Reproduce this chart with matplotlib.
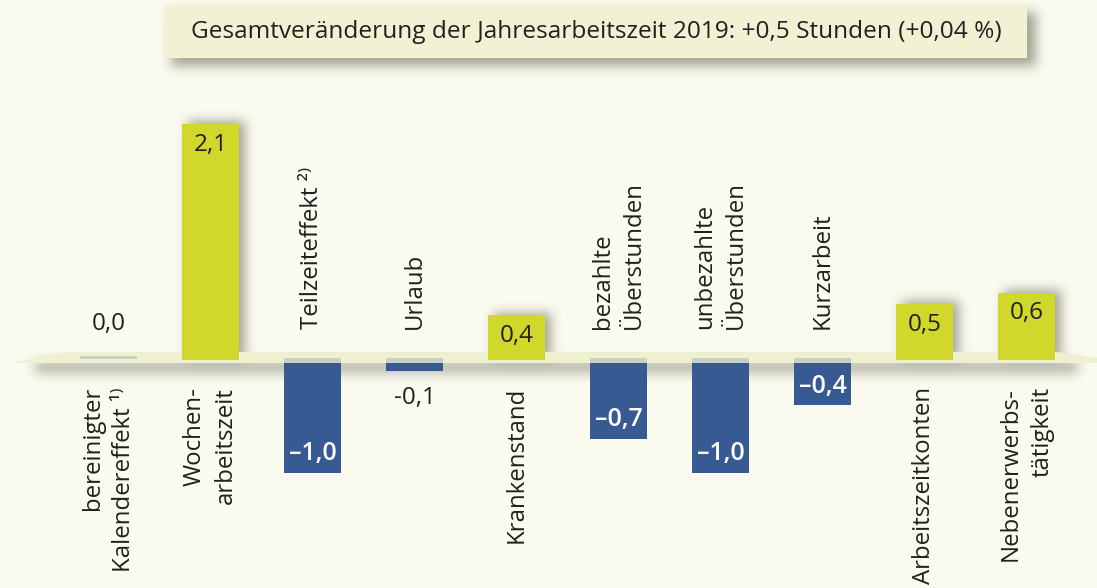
import numpy as np
import matplotlib
matplotlib.use("Agg")
import matplotlib.pyplot as plt
import matplotlib.transforms as mtransforms
from matplotlib.patches import Rectangle, Polygon

# ---------------- data ----------------
title = "Gesamtveränderung der Jahresarbeitszeit 2019: +0,5 Stunden (+0,04 %)"
categories = [
    "bereinigter\nKalendereffekt ¹⁾",
    "Wochen-\narbeitszeit",
    "Teilzeiteffekt ²⁾",
    "Urlaub",
    "Krankenstand",
    "bezahlte\nÜberstunden",
    "unbezahlte\nÜberstunden",
    "Kurzarbeit",
    "Arbeitszeitkonten",
    "Nebenerwerbs-\ntätigkeit",
]
values = [0.0, 2.1, -1.0, -0.1, 0.4, -0.7, -1.0, -0.4, 0.5, 0.6]

# ---------------- style ----------------
W, H = 1097, 588
BG = "#FAFAEE"
BOX = "#F1F2D3"
GREEN = "#D0D82B"
BLUE = "#385A93"
CAP = "#C9D0C6"
BAND = "#EEF0D0"
TXT = "#231F20"
FAM = ["Open Sans", "DejaVu Sans"]
LBL = 17.3
VAL = 17.5

fig = plt.figure(figsize=(W / 100, H / 100), dpi=100, facecolor=BG)
ax = fig.add_axes([0, 0, 1, 1])
ax.set_axis_off()

x0_px, step_px = 108.5, 102.0
zero_px, unit_px = 360.0, 112.5
xlim = (-x0_px / step_px, (W - x0_px) / step_px)
ylim = (-(H - zero_px) / unit_px, zero_px / unit_px)

# pixel (from top-left) transform
pxT = mtransforms.Affine2D().scale(1 / W, -1 / H).translate(0, 1) + fig.transFigure
xdata_ypx = mtransforms.blended_transform_factory(ax.transData, pxT)
px = 1 / unit_px  # one pixel in data units (vertical)

x = np.arange(len(values))
bw = 57 / step_px

# bars
for xi, v in zip(x, values):
    if v > 0:
        ax.bar(xi, v, width=bw, color=GREEN, zorder=4, linewidth=0)
    elif v < 0:
        ax.bar(xi, v, width=bw, color=BLUE, zorder=4, linewidth=0)
        ax.bar(xi, 5 * px, bottom=-3 * px, width=bw, color=CAP, zorder=5, linewidth=0)
    else:
        ax.bar(xi, 3 * px, bottom=1 * px, width=bw, color=CAP, zorder=5, linewidth=0)

ax.set_xlim(*xlim)
ax.set_ylim(*ylim)

# floor band
band = Polygon([(13, 362.5), (70, 352), (1058, 352), (1097, 358), (1097, 363), (13, 363)],
               closed=True, transform=pxT, facecolor=BAND, edgecolor="none", zorder=2)
ax.add_patch(band)

# title box
ax.add_patch(Rectangle((165, 5), 862, 53, transform=pxT, facecolor=BOX,
                       edgecolor="none", zorder=3))
tt = ax.text(596, 32, title, transform=pxT, ha="center", va="center",
             fontsize=17, family=FAM, color=TXT, zorder=6)
fig.canvas.draw()
bb = tt.get_window_extent()
tt.set_fontsize(17 * 810 / bb.width)

# value labels
def fmt(v, dash):
    s = f"{abs(v):.1f}".replace(".", ",")
    return (dash + s) if v < 0 else s

for xi, v in zip(x, values):
    if v > 0:
        ax.text(xi, (zero_px - v * unit_px) + 21, fmt(v, "-"), transform=xdata_ypx,
                ha="center", va="center", fontsize=VAL, family=FAM, color=TXT, zorder=7)
    elif v == 0:
        ax.text(xi, 324, fmt(v, "-"), transform=xdata_ypx, ha="center", va="center",
                fontsize=VAL, family=FAM, color=TXT, zorder=7)
    elif v > -0.2:
        ax.text(xi, (zero_px - v * unit_px) + 27, fmt(v, "-"), transform=xdata_ypx,
                ha="center", va="center", fontsize=VAL, family=FAM, color=TXT, zorder=7)
    else:
        ax.text(xi, (zero_px - v * unit_px) - 19, fmt(v, "–"), transform=xdata_ypx,
                ha="center", va="center", fontsize=18, family=FAM, color="white",
                fontweight="semibold", zorder=7)

# category labels
for xi, v, c in zip(x, values, categories):
    if v >= 0:
        ax.text(xi, 387, c, transform=xdata_ypx, rotation=90, ha="center", va="top",
                multialignment="right", fontsize=LBL, family=FAM, color=TXT,
                linespacing=1.42, zorder=7)
    else:
        ax.text(xi, 329, c, transform=xdata_ypx, rotation=90, ha="center", va="bottom",
                multialignment="left", fontsize=LBL, family=FAM, color=TXT,
                linespacing=1.42, zorder=7)

# ---------------- soft shadows ----------------
def box1d(a, r, axis):
    k = 2 * r + 1
    pad = [(0, 0), (0, 0)]
    pad[axis] = (r + 1, r)
    p = np.pad(a, pad, mode="constant")
    c = np.cumsum(p, axis=axis)
    if axis == 0:
        return (c[k:] - c[:-k]) / k
    return (c[:, k:] - c[:, :-k]) / k

def blur(a, r):
    for _ in range(3):
        a = box1d(a, r, 0)
        a = box1d(a, r, 1)
    return a

def rect_mask(x1, y1, x2, y2):
    m = np.zeros((H, W))
    m[int(max(y1, 0)):int(min(y2, H)), int(max(x1, 0)):int(min(x2, W))] = 1.0
    return m

shadow = 0.6 * blur(rect_mask(171, 12, 1036, 66), 5)
shadow += 0.5 * blur(rect_mask(35, 361, 1078, 373), 5)
gm = np.zeros((H, W))
for xi, v in zip(x, values):
    if v > 0:
        (dx1, dy1), (dx2, dy2) = ax.transData.transform([(xi - bw / 2, v), (xi + bw / 2, 0)])
        gm += rect_mask(dx1 + 7, H - dy1 - 2, dx2 + 7, H - dy2 - 2)
shadow += 0.6 * blur(gm, 5)
shadow = np.clip(shadow, 0, 1)
rgba = np.zeros((H, W, 4))
rgba[..., 0] = 0.42
rgba[..., 1] = 0.42
rgba[..., 2] = 0.36
rgba[..., 3] = shadow
ax.imshow(rgba, extent=(xlim[0], xlim[1], ylim[0], ylim[1]), aspect="auto",
          interpolation="bilinear", zorder=1)
ax.set_xlim(*xlim)
ax.set_ylim(*ylim)

fig.savefig("out.png", dpi=100, facecolor=BG)
